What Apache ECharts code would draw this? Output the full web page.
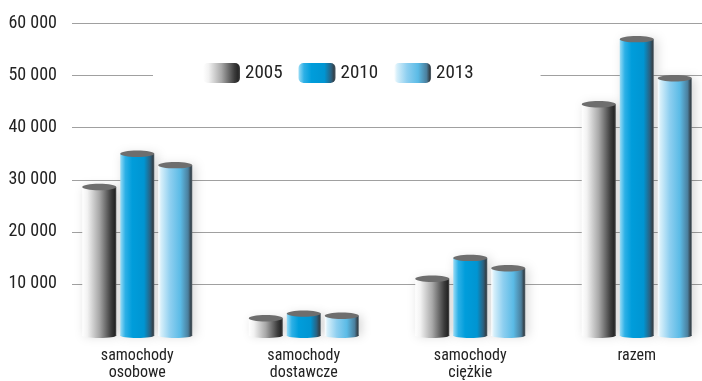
<!DOCTYPE html>
<html>
<head>
<meta charset="utf-8">
<script src="https://cdn.jsdelivr.net/npm/echarts@6/dist/echarts.min.js"></script>
<style>html,body{margin:0;padding:0;background:#fff}#c{width:702px;height:381px}</style>
</head>
<body>
<div id="c"></div>
<script>
const categories = ['samochody\nosobowe', 'samochody\ndostawcze', 'samochody\nciężkie', 'razem'];
const years = ['2005', '2010', '2013'];
const v2005 = [28600, 3400, 11000, 44500];
const v2010 = [35000, 4300, 15000, 57000];
const v2013 = [32800, 3900, 13000, 49500];
const yMin = 0, yMax = 60000, yStep = 10000;

const FONT = "'Roboto Condensed', 'DejaVu Sans Condensed', sans-serif";
function grad(stops) {
  return new echarts.graphic.LinearGradient(0, 0, 1, 0, stops.map(s => ({offset: s[0], color: s[1]})));
}
const gradients = [
  grad([[0, '#ffffff'], [0.15, '#f2f2f2'], [0.5, '#a8a8a8'], [0.85, '#3c3c3c'], [0.95, '#262626'], [1, '#4a4a4a']]),
  grad([[0, '#9adcf6'], [0.15, '#2db0e6'], [0.35, '#009ddb'], [0.7, '#0095d2'], [0.88, '#2a6282'], [0.96, '#33414a'], [1, '#50606a']]),
  grad([[0, '#ffffff'], [0.08, '#d6effa'], [0.35, '#8ecff0'], [0.65, '#5bbbe6'], [0.88, '#4b7f9d'], [0.96, '#36434c'], [1, '#55636c']])
];
const values = [v2005, v2010, v2013];
const BW = 34, STEP = 38;

function makeRender(i) {
  return function (params, api) {
    const top = api.coord([api.value(0), api.value(1)]);
    const base = api.coord([api.value(0), 0]);
    const cx = top[0] + (i - 1) * STEP;
    const ty = top[1], by = base[1];
    return {
      type: 'group',
      children: [
        {type: 'rect', shape: {x: cx - BW / 2, y: ty, width: BW, height: by - ty},
         style: {fill: gradients[i], shadowColor: 'rgba(0,0,0,0.16)', shadowBlur: 10, shadowOffsetX: 3}},
        {type: 'ellipse', shape: {cx: cx, cy: by - 0.5, rx: BW / 2, ry: 2.5}, style: {fill: gradients[i]}},
        {type: 'ellipse', shape: {cx: cx, cy: ty, rx: BW / 2, ry: 3.2}, style: {fill: '#6e6e6e'}}
      ]
    };
  };
}

const series = years.map((y, i) => ({
  name: y, type: 'custom', xAxisIndex: 0, yAxisIndex: 0,
  data: values[i].map((v, k) => [k, v]),
  encode: {x: 0, y: 1},
  itemStyle: {color: gradients[i]},
  renderItem: makeRender(i),
  z: 3
}));

const option = {
  animation: false,
  backgroundColor: '#fff',
  textStyle: {fontFamily: FONT},
  legend: {
    data: years, left: 153, top: 58,
    padding: [5, 67, 5, 50], backgroundColor: '#fff',
    itemWidth: 37, itemHeight: 20, itemGap: 16, icon: 'roundRect',
    textStyle: {fontFamily: FONT, fontSize: 19, color: '#222'}
  },
  grid: [
    {left: 54, width: 666, top: 23.5, bottom: 45, outerBoundsMode: 'none', containLabel: false},
    {left: 72, right: 0, top: 23.5, bottom: 45, outerBoundsMode: 'none', containLabel: false}
  ],
  xAxis: [
    {type: 'category', gridIndex: 0, data: categories,
     axisLine: {show: false}, axisTick: {show: false},
     axisLabel: {interval: 0, margin: 11, fontFamily: FONT, fontSize: 16, lineHeight: 17, color: '#222'}},
    {type: 'value', gridIndex: 1, min: 0, max: 1, show: false}
  ],
  yAxis: [
    {type: 'value', gridIndex: 0, min: yMin, max: yMax, interval: yStep, show: false},
    {type: 'value', gridIndex: 1, min: yMin, max: yMax, interval: yStep,
     axisLine: {show: false}, axisTick: {show: false},
     splitLine: {show: true, showMinLine: false, lineStyle: {color: '#a0a0a0', width: 1.2}},
     axisLabel: {margin: 15, fontFamily: FONT, fontSize: 18, color: '#222',
       formatter: v => v === 0 ? '' : String(v).replace(/\B(?=(\d{3})+(?!\d))/g, ' ')}}
  ],
  series: series
};
const chart = echarts.init(document.getElementById('c'), null, {renderer: 'canvas'});
chart.setOption(option);
</script>
</body>
</html>
